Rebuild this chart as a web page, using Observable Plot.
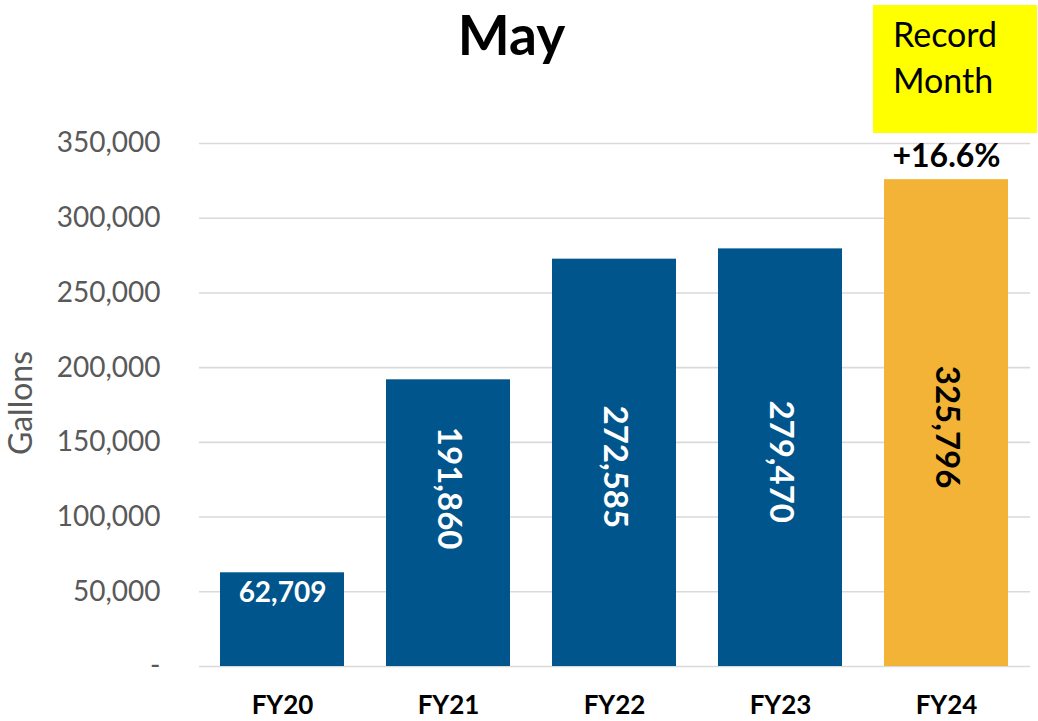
<!DOCTYPE html>
<html>
<head>
<meta charset="utf-8">
<script src="https://cdn.jsdelivr.net/npm/d3@7"></script>
<script src="https://cdn.jsdelivr.net/npm/@observablehq/plot@0.6"></script>
<style>
  body { margin: 0; background: white; font-family: Lato, sans-serif; }
  #wrap { position: relative; width: 1038px; height: 721px; overflow: hidden; }
  #badge { position: absolute; left: 873px; top: 5px; width: 164px; height: 128px;
           background: #ffff00; box-sizing: border-box; padding: 6px 0 0 20px;
           font-family: Lato, sans-serif; font-size: 34px; line-height: 46px; color: #000; }
</style>
</head>
<body>
<div id="wrap"><div id="badge">Record<br>Month</div></div>
<script>
const years = ["FY20", "FY21", "FY22", "FY23", "FY24"];
const gallons = [62709, 191860, 272585, 279470, 325796];
const yTicks = [0, 50000, 100000, 150000, 200000, 250000, 300000, 350000];
const highlightYear = "FY24";
const changeLabel = "+16.6%";
const titleText = "May";
const yLabel = "Gallons";

const data = years.map((fy, i) => ({fy, value: gallons[i], hi: fy === highlightYear}));
const fmt = d3.format(",");
const blue = "#00558c", gold = "#f2b336";

const chart = Plot.plot({
  width: 1038, height: 721,
  marginLeft: 199, marginRight: 8, marginTop: 143, marginBottom: 55,
  style: {fontFamily: "Lato, sans-serif", background: "white", overflow: "visible"},
  x: {domain: years, paddingInner: 0.253, paddingOuter: 0.1265, label: null},
  y: {domain: [0, 350000], label: null},
  marks: [
    Plot.gridY(yTicks, {stroke: "#d9d9d9", strokeOpacity: 1, strokeWidth: 1.6}),
    Plot.axisY({ticks: yTicks, tickFormat: d => d === 0 ? "-" : fmt(d), tickSize: 0, tickPadding: 39,
                fontSize: 28, fill: "#595959", label: null}),
    Plot.axisX({tickSize: 0, tickPadding: 29, fontSize: 26, fontWeight: "bold", fill: "#000", label: null}),
    Plot.barY(data, {x: "fy", y: "value", fill: d => d.hi ? gold : blue}),
    Plot.text(data.filter(d => d.fy === "FY20"), {x: "fy", y: "value", text: d => fmt(d.value),
      dy: 20, lineAnchor: "middle", fill: "white", fontWeight: "bold", fontSize: 28}),
    Plot.text(data.filter(d => d.fy === "FY21"), {x: "fy", y: d => d.value / 2, text: d => fmt(d.value),
      rotate: 90, dy: -35, lineAnchor: "middle", fill: "white", fontWeight: "bold", fontSize: 33}),
    Plot.text(data.filter(d => d.fy !== "FY20" && d.fy !== "FY21"), {x: "fy", y: d => d.value / 2, text: d => fmt(d.value),
      rotate: 90, dy: 4, lineAnchor: "middle", fill: d => d.hi ? "#000" : "white", fontWeight: "bold", fontSize: 33}),
    Plot.text(data.filter(d => d.hi), {x: "fy", y: "value", text: () => changeLabel,
      dy: -23, lineAnchor: "middle", fill: "#000", fontWeight: "bold", fontSize: 32}),
    Plot.text([titleText], {frameAnchor: "top-left", dx: 312, dy: -106, textAnchor: "middle", lineAnchor: "middle",
      fontSize: 55, fontWeight: "bold", fill: "#000"}),
    Plot.text([yLabel], {frameAnchor: "left", dx: -178, dy: -2, rotate: -90, textAnchor: "middle", lineAnchor: "middle",
      fontSize: 32, fill: "#595959"})
  ]
});
document.getElementById("wrap").prepend(chart);
</script>
</body>
</html>
